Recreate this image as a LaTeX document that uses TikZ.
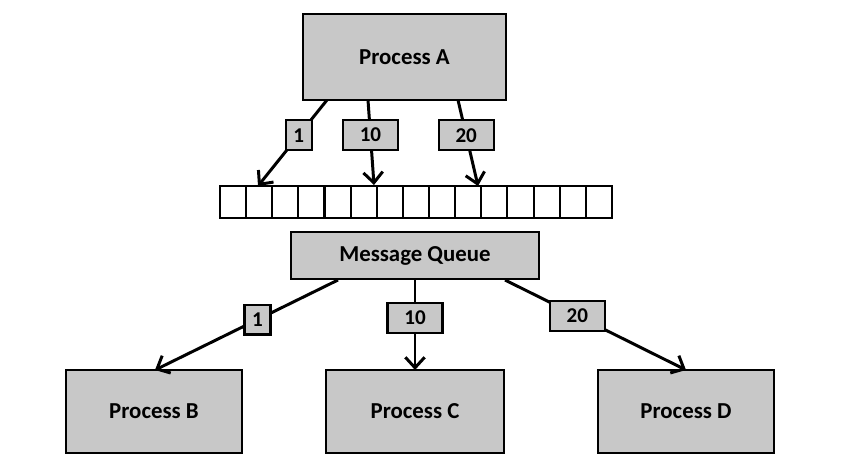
\documentclass[tikz,border=0pt]{standalone}
\usepackage{fontspec}
\setmainfont{Carlito}
\usetikzlibrary{arrows.meta}
\definecolor{boxgray}{RGB}{200,200,200}
\tikzset{
  proc/.style={draw,line width=1.4pt,fill=boxgray,inner sep=0,font=\fontsize{13}{15}\selectfont\bfseries},
  prio/.style={draw,line width=1.2pt,fill=boxgray,inner sep=0,minimum height=17pt,font=\fontsize{12}{14}\selectfont\bfseries},
  cell/.style={draw,line width=1.2pt,fill=white},
  msg/.style={line width=1.7pt,-{Straight Barb[length=6pt,width=11pt,line width=1.7pt]}}
}
\begin{document}
\begin{tikzpicture}[x=0.02cm,y=-0.02cm]
    \useasboundingbox(0,0)rectangle(852,472);
    % processes
    \node[proc,minimum width=203*0.02cm,minimum height=86*0.02cm](procA)at(404.5,57){Process A};
    \node[proc,minimum width=248*0.02cm,minimum height=47*0.02cm](queue)at(415,255.5){Message Queue};
    \node[proc,minimum width=176*0.02cm,minimum height=83*0.02cm](procB)at(154,411.5){Process B};
    \node[proc,minimum width=178*0.02cm,minimum height=83*0.02cm](procC)at(415,411.5){Process C};
    \node[proc,minimum width=176*0.02cm,minimum height=83*0.02cm](procD)at(686,411.5){Process D};
    % queue slots
    \foreach \i in {0,...,14}
        \draw[cell](220+\i*26.13,186)rectangle++(26.13,32);
    % end points
    \coordinate(a1)at(327,100);
    \coordinate(a2)at(368,100);
    \coordinate(a3)at(458,100);
    \coordinate(s1)at(258,186);
    \coordinate(s2)at(374,185);
    \coordinate(s3)at(478,186);
    \coordinate(q1)at(338,280);
    \coordinate(q2)at(415,280);
    \coordinate(q3)at(505,280);
    \coordinate(b1)at(155,370);
    \coordinate(c1)at(415,370);
    \coordinate(d1)at(686,370);
    % messages
    \draw[msg](a1)--(s1)node[prio,pos=.41,minimum width=26*0.02cm]{1};
    \draw[msg](a2)--(s2)node[prio,pos=.41,minimum width=55*0.02cm]{10};
    \draw[msg](a3)--(s3)node[prio,pos=.41,minimum width=55*0.02cm]{20};
    \draw[msg](q1)--(b1)node[prio,pos=.44,minimum width=26*0.02cm]{1};
    \draw[msg](q2)--(c1)node[prio,pos=.42,minimum width=55*0.02cm]{10};
    \draw[msg](q3)--(d1)node[prio,pos=.40,minimum width=55*0.02cm]{20};
\end{tikzpicture}
\end{document}
